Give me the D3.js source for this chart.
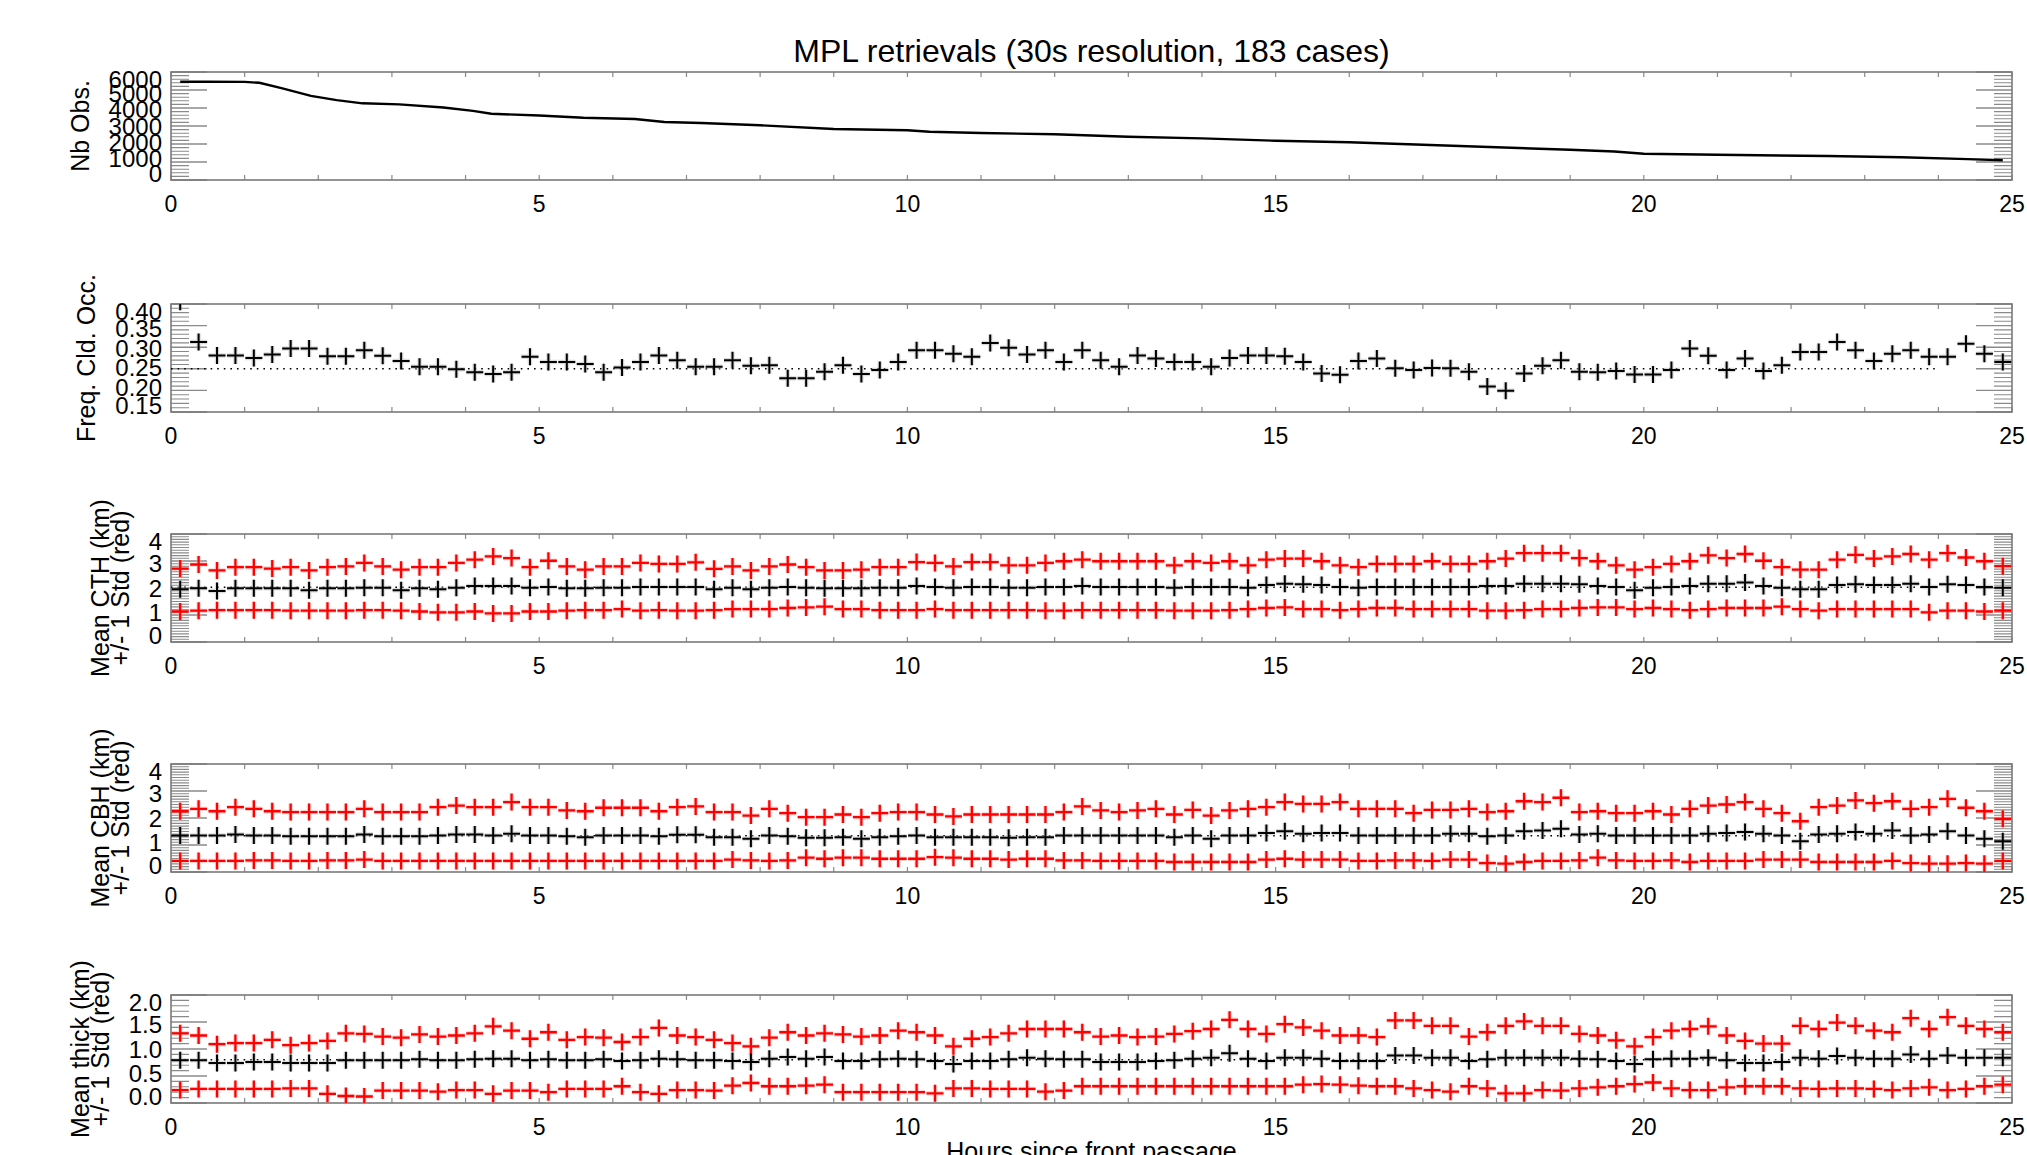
<!DOCTYPE html>
<html>
<head>
<meta charset="utf-8">
<script src="https://cdn.jsdelivr.net/npm/d3@7"></script>
<style>
  body { margin: 0; background: #fff; }
  svg { display: block; font-family: "Liberation Sans", Arial, sans-serif; }
</style>
</head>
<body>
<div id="chart"></div>
<script>
// Bin centres, hours since front passage (15 min bins)
const hours = [
  0.125, 0.375, 0.625, 0.875, 1.125, 1.375, 1.625, 1.875, 2.125, 2.375,
  2.625, 2.875, 3.125, 3.375, 3.625, 3.875, 4.125, 4.375, 4.625, 4.875,
  5.125, 5.375, 5.625, 5.875, 6.125, 6.375, 6.625, 6.875, 7.125, 7.375,
  7.625, 7.875, 8.125, 8.375, 8.625, 8.875, 9.125, 9.375, 9.625, 9.875,
  10.125, 10.375, 10.625, 10.875, 11.125, 11.375, 11.625, 11.875, 12.125, 12.375,
  12.625, 12.875, 13.125, 13.375, 13.625, 13.875, 14.125, 14.375, 14.625, 14.875,
  15.125, 15.375, 15.625, 15.875, 16.125, 16.375, 16.625, 16.875, 17.125, 17.375,
  17.625, 17.875, 18.125, 18.375, 18.625, 18.875, 19.125, 19.375, 19.625, 19.875,
  20.125, 20.375, 20.625, 20.875, 21.125, 21.375, 21.625, 21.875, 22.125, 22.375,
  22.625, 22.875, 23.125, 23.375, 23.625, 23.875, 24.125, 24.375, 24.625, 24.875
];

// Number of observations (line), read at points along the curve
const obsHours = [0.125, 0.5, 1.0, 1.2, 1.5, 1.9, 2.25, 2.6, 3.1, 3.7, 4.1, 4.35, 5.0, 5.6, 6.3, 6.7, 7.2, 8.0, 9.0,
  10.0, 10.3, 11.0, 12.0, 13.0, 14.0, 15.0, 16.0, 17.0, 18.0, 19.0, 19.6, 20.0, 21.0, 22.5, 23.5, 24.4, 24.875];
const obsCounts = [5460, 5460, 5450, 5400, 5100, 4670, 4440, 4260, 4200, 4030, 3840, 3680, 3580, 3460, 3390, 3220, 3170, 3040, 2830,
  2760, 2680, 2610, 2540, 2400, 2310, 2180, 2100, 1960, 1820, 1680, 1580, 1460, 1400, 1330, 1260, 1160, 1100];

// Frequency of cloud occurrence
const freqOcc = [
  0.405, 0.312, 0.281, 0.281, 0.275, 0.283, 0.297, 0.297, 0.279, 0.279,
  0.293, 0.280, 0.268, 0.255, 0.255, 0.249, 0.242, 0.238, 0.242, 0.278,
  0.266, 0.266, 0.261, 0.242, 0.253, 0.266, 0.281, 0.270, 0.255, 0.255,
  0.270, 0.257, 0.258, 0.228, 0.228, 0.243, 0.258, 0.238, 0.247, 0.266,
  0.293, 0.293, 0.285, 0.278, 0.310, 0.299, 0.283, 0.293, 0.266, 0.293,
  0.270, 0.255, 0.281, 0.274, 0.266, 0.266, 0.255, 0.275, 0.281, 0.281,
  0.279, 0.266, 0.239, 0.236, 0.268, 0.274, 0.251, 0.247, 0.252, 0.251,
  0.243, 0.209, 0.199, 0.239, 0.257, 0.270, 0.243, 0.242, 0.245, 0.237,
  0.237, 0.247, 0.297, 0.280, 0.247, 0.274, 0.245, 0.258, 0.289, 0.289,
  0.312, 0.293, 0.268, 0.285, 0.293, 0.278, 0.278, 0.308, 0.285, 0.266
];

// Cloud top height (km): mean, mean + 1 std, mean - 1 std
const cthMean = [
  1.95, 1.99, 1.89, 1.99, 1.99, 1.99, 1.99, 1.92, 1.99, 1.99,
  2.01, 2.01, 1.92, 1.99, 1.95, 2.01, 2.07, 2.07, 2.07, 2.01,
  2.04, 1.99, 1.99, 2.01, 2.01, 2.04, 2.04, 2.04, 2.04, 1.95,
  2.01, 1.95, 2.01, 2.04, 2.01, 1.99, 1.99, 1.99, 2.01, 2.01,
  2.07, 2.04, 2.01, 2.04, 2.04, 2.01, 2.01, 2.04, 2.04, 2.07,
  2.04, 2.04, 2.04, 2.04, 2.01, 2.04, 2.04, 2.04, 2.01, 2.11,
  2.16, 2.14, 2.11, 2.04, 2.01, 2.04, 2.04, 2.04, 2.04, 2.04,
  2.04, 2.07, 2.07, 2.16, 2.16, 2.16, 2.14, 2.07, 2.04, 1.92,
  2.01, 2.04, 2.07, 2.16, 2.16, 2.20, 2.07, 2.01, 1.95, 1.95,
  2.11, 2.14, 2.11, 2.11, 2.16, 2.04, 2.14, 2.11, 2.04, 2.01
];
const cthPlus = [
  2.72, 2.87, 2.65, 2.77, 2.77, 2.72, 2.77, 2.65, 2.77, 2.80,
  2.93, 2.80, 2.68, 2.77, 2.77, 2.93, 3.05, 3.17, 3.11, 2.77,
  3.01, 2.80, 2.68, 2.80, 2.80, 2.93, 2.89, 2.89, 2.95, 2.71,
  2.80, 2.65, 2.80, 2.87, 2.77, 2.65, 2.65, 2.68, 2.77, 2.77,
  2.96, 2.93, 2.80, 2.96, 2.96, 2.84, 2.84, 2.93, 2.99, 3.05,
  2.99, 2.99, 2.99, 2.99, 2.84, 2.99, 2.93, 2.99, 2.84, 3.05,
  3.09, 3.09, 2.99, 2.84, 2.77, 2.89, 2.89, 2.89, 2.99, 2.89,
  2.89, 2.99, 3.09, 3.29, 3.29, 3.29, 3.11, 2.99, 2.84, 2.68,
  2.77, 2.89, 2.99, 3.21, 3.11, 3.26, 3.01, 2.77, 2.68, 2.68,
  3.05, 3.23, 3.09, 3.17, 3.26, 3.05, 3.29, 3.13, 2.99, 2.81
];
const cthMinus = [
  1.13, 1.16, 1.18, 1.18, 1.18, 1.18, 1.16, 1.16, 1.16, 1.16,
  1.18, 1.18, 1.16, 1.13, 1.10, 1.10, 1.13, 1.06, 1.06, 1.13,
  1.13, 1.16, 1.18, 1.18, 1.22, 1.16, 1.18, 1.16, 1.16, 1.18,
  1.22, 1.22, 1.22, 1.26, 1.28, 1.31, 1.22, 1.22, 1.18, 1.18,
  1.18, 1.22, 1.18, 1.18, 1.18, 1.18, 1.18, 1.16, 1.16, 1.18,
  1.18, 1.18, 1.18, 1.18, 1.16, 1.16, 1.16, 1.18, 1.22, 1.26,
  1.28, 1.22, 1.22, 1.18, 1.22, 1.26, 1.26, 1.22, 1.22, 1.22,
  1.22, 1.16, 1.16, 1.18, 1.22, 1.22, 1.26, 1.28, 1.28, 1.22,
  1.26, 1.22, 1.18, 1.22, 1.26, 1.26, 1.26, 1.31, 1.22, 1.16,
  1.22, 1.22, 1.22, 1.22, 1.22, 1.10, 1.16, 1.16, 1.13, 1.16
];

// Cloud base height (km)
const cbhMean = [
  1.35, 1.35, 1.35, 1.39, 1.35, 1.35, 1.32, 1.32, 1.32, 1.32,
  1.39, 1.32, 1.32, 1.32, 1.35, 1.39, 1.39, 1.35, 1.42, 1.35,
  1.35, 1.32, 1.29, 1.35, 1.35, 1.35, 1.32, 1.38, 1.38, 1.29,
  1.29, 1.23, 1.35, 1.32, 1.27, 1.27, 1.29, 1.23, 1.29, 1.32,
  1.35, 1.29, 1.29, 1.29, 1.29, 1.27, 1.29, 1.29, 1.35, 1.35,
  1.35, 1.35, 1.35, 1.35, 1.29, 1.35, 1.23, 1.35, 1.35, 1.44,
  1.51, 1.42, 1.44, 1.44, 1.35, 1.35, 1.35, 1.35, 1.35, 1.42,
  1.42, 1.32, 1.35, 1.51, 1.54, 1.60, 1.39, 1.42, 1.35, 1.35,
  1.35, 1.35, 1.35, 1.42, 1.44, 1.48, 1.42, 1.35, 1.14, 1.39,
  1.42, 1.48, 1.42, 1.54, 1.35, 1.39, 1.51, 1.35, 1.23, 1.14
];
const cbhPlus = [
  2.25, 2.34, 2.25, 2.40, 2.34, 2.25, 2.22, 2.22, 2.22, 2.22,
  2.34, 2.22, 2.22, 2.22, 2.40, 2.46, 2.40, 2.40, 2.59, 2.40,
  2.40, 2.28, 2.25, 2.38, 2.38, 2.38, 2.25, 2.40, 2.43, 2.22,
  2.22, 2.09, 2.34, 2.18, 2.03, 2.03, 2.13, 2.03, 2.18, 2.22,
  2.22, 2.13, 2.06, 2.13, 2.13, 2.13, 2.13, 2.13, 2.22, 2.43,
  2.28, 2.22, 2.28, 2.34, 2.13, 2.30, 2.09, 2.28, 2.34, 2.40,
  2.59, 2.52, 2.52, 2.59, 2.34, 2.34, 2.34, 2.18, 2.30, 2.30,
  2.34, 2.22, 2.25, 2.62, 2.59, 2.75, 2.22, 2.25, 2.18, 2.18,
  2.25, 2.13, 2.34, 2.46, 2.50, 2.59, 2.34, 2.18, 1.88, 2.40,
  2.46, 2.65, 2.55, 2.62, 2.34, 2.40, 2.71, 2.38, 2.25, 1.97
];
const cbhMinus = [
  0.41, 0.41, 0.41, 0.41, 0.43, 0.43, 0.41, 0.41, 0.43, 0.43,
  0.46, 0.41, 0.41, 0.41, 0.41, 0.41, 0.41, 0.41, 0.41, 0.41,
  0.41, 0.41, 0.41, 0.41, 0.41, 0.41, 0.41, 0.41, 0.41, 0.41,
  0.46, 0.43, 0.41, 0.43, 0.53, 0.49, 0.53, 0.53, 0.49, 0.49,
  0.49, 0.55, 0.53, 0.49, 0.49, 0.46, 0.49, 0.49, 0.43, 0.43,
  0.41, 0.41, 0.41, 0.41, 0.37, 0.37, 0.37, 0.37, 0.37, 0.46,
  0.49, 0.46, 0.46, 0.46, 0.41, 0.41, 0.43, 0.43, 0.41, 0.46,
  0.46, 0.33, 0.31, 0.37, 0.41, 0.41, 0.43, 0.53, 0.43, 0.41,
  0.41, 0.43, 0.37, 0.41, 0.41, 0.41, 0.46, 0.46, 0.46, 0.37,
  0.37, 0.37, 0.37, 0.41, 0.33, 0.31, 0.31, 0.33, 0.31, 0.41
];

// Cloud thickness (km)
const thickMean = [
  0.79, 0.79, 0.74, 0.74, 0.76, 0.76, 0.74, 0.74, 0.74, 0.79,
  0.79, 0.79, 0.79, 0.81, 0.79, 0.79, 0.81, 0.82, 0.82, 0.79,
  0.81, 0.79, 0.79, 0.81, 0.78, 0.79, 0.82, 0.81, 0.79, 0.79,
  0.78, 0.76, 0.82, 0.85, 0.82, 0.85, 0.78, 0.78, 0.81, 0.82,
  0.81, 0.78, 0.72, 0.78, 0.78, 0.81, 0.84, 0.82, 0.81, 0.81,
  0.76, 0.76, 0.76, 0.78, 0.79, 0.82, 0.84, 0.92, 0.82, 0.78,
  0.84, 0.84, 0.82, 0.78, 0.78, 0.78, 0.88, 0.88, 0.84, 0.84,
  0.78, 0.81, 0.84, 0.84, 0.84, 0.84, 0.82, 0.81, 0.78, 0.72,
  0.81, 0.82, 0.82, 0.84, 0.79, 0.74, 0.74, 0.76, 0.84, 0.82,
  0.87, 0.84, 0.82, 0.82, 0.90, 0.82, 0.88, 0.84, 0.84, 0.84
];
const thickPlus = [
  1.29, 1.25, 1.09, 1.11, 1.11, 1.17, 1.07, 1.11, 1.15, 1.29,
  1.28, 1.23, 1.21, 1.27, 1.23, 1.25, 1.29, 1.42, 1.34, 1.19,
  1.31, 1.17, 1.22, 1.21, 1.13, 1.22, 1.39, 1.25, 1.22, 1.17,
  1.11, 1.05, 1.21, 1.31, 1.25, 1.29, 1.27, 1.23, 1.25, 1.34,
  1.31, 1.25, 1.05, 1.19, 1.22, 1.29, 1.37, 1.37, 1.37, 1.31,
  1.23, 1.25, 1.22, 1.23, 1.28, 1.33, 1.37, 1.54, 1.37, 1.28,
  1.46, 1.40, 1.34, 1.25, 1.25, 1.22, 1.53, 1.53, 1.43, 1.43,
  1.23, 1.31, 1.43, 1.51, 1.43, 1.43, 1.28, 1.25, 1.16, 1.05,
  1.22, 1.34, 1.37, 1.42, 1.25, 1.15, 1.10, 1.10, 1.43, 1.37,
  1.49, 1.43, 1.34, 1.31, 1.57, 1.37, 1.59, 1.43, 1.37, 1.31
];
const thickMinus = [
  0.24, 0.26, 0.26, 0.26, 0.26, 0.26, 0.27, 0.27, 0.17, 0.13,
  0.12, 0.23, 0.23, 0.23, 0.21, 0.24, 0.24, 0.17, 0.23, 0.23,
  0.20, 0.26, 0.26, 0.26, 0.31, 0.20, 0.17, 0.24, 0.24, 0.23,
  0.32, 0.37, 0.31, 0.31, 0.32, 0.34, 0.20, 0.20, 0.20, 0.20,
  0.20, 0.18, 0.27, 0.27, 0.26, 0.26, 0.26, 0.21, 0.23, 0.31,
  0.31, 0.31, 0.31, 0.31, 0.31, 0.31, 0.31, 0.31, 0.31, 0.31,
  0.31, 0.34, 0.35, 0.34, 0.32, 0.31, 0.31, 0.27, 0.24, 0.21,
  0.31, 0.27, 0.18, 0.18, 0.24, 0.23, 0.27, 0.29, 0.31, 0.35,
  0.38, 0.27, 0.24, 0.24, 0.29, 0.31, 0.31, 0.31, 0.27, 0.26,
  0.27, 0.27, 0.26, 0.24, 0.27, 0.29, 0.24, 0.26, 0.31, 0.34
];

// Overall mean levels (dotted lines)
const freqMeanLevel = 0.25;
const cthMeanLevel = 2.03;
const cbhMeanLevel = 1.34;
const thickMeanLevel = 0.80;

// Tick values
const xTicks = [0, 5, 10, 15, 20, 25];
const nbObsTicks = [0, 1000, 2000, 3000, 4000, 5000, 6000];
const freqTicks = [0.15, 0.20, 0.25, 0.30, 0.35, 0.40];
const heightTicks = [0, 1, 2, 3, 4];
const thickTicks = [0.0, 0.5, 1.0, 1.5, 2.0];

const width = 2027, height = 1155;
const left = 171, right = 2012, panelH = 108;
const panelTops = [72, 304, 534, 764, 995];

const svg = d3.select("#chart").append("svg")
    .attr("width", width)
    .attr("height", height);

const x = d3.scaleLinear().domain([0, 25]).range([left, right]);

const panels = [
  {titles: ["Nb Obs."], domain: [0, 6000], ticks: nbObsTicks, fmt: d3.format("d"), minor: 5,
   line: {xs: obsHours, ys: obsCounts}},
  {titles: ["Freq. Cld. Occ."], domain: [0.15, 0.40], ticks: freqTicks, fmt: d3.format(".2f"), minor: 5,
   level: freqMeanLevel, series: [{values: freqOcc, color: "#000"}]},
  {titles: ["Mean CTH (km)", "+/- 1 Std (red)"], domain: [0, 4], ticks: heightTicks, fmt: d3.format("d"), minor: 10,
   level: cthMeanLevel,
   series: [{values: cthPlus, color: "red"}, {values: cthMean, color: "#000"}, {values: cthMinus, color: "red"}]},
  {titles: ["Mean CBH (km)", "+/- 1 Std (red)"], domain: [0, 4], ticks: heightTicks, fmt: d3.format("d"), minor: 10,
   level: cbhMeanLevel,
   series: [{values: cbhPlus, color: "red"}, {values: cbhMean, color: "#000"}, {values: cbhMinus, color: "red"}]},
  {titles: ["Mean thick (km)", "+/- 1 Std (red)"], domain: [0, 2], ticks: thickTicks, fmt: d3.format(".1f"), minor: 5,
   level: thickMeanLevel,
   series: [{values: thickPlus, color: "red"}, {values: thickMean, color: "#000"}, {values: thickMinus, color: "red"}]}
];

// Main title
svg.append("text")
    .attr("x", (left + right) / 2)
    .attr("y", 62)
    .attr("text-anchor", "middle")
    .style("font-size", "32px")
    .text("MPL retrievals (30s resolution, 183 cases)");

const crossHalf = 8.5;
const crossPath = (cx, cy) => `M${cx - crossHalf},${cy}H${cx + crossHalf}M${cx},${cy - crossHalf}V${cy + crossHalf}`;

panels.forEach((p, k) => {
    const top = panelTops[k], bottom = top + panelH;
    const y = d3.scaleLinear().domain(p.domain).range([bottom, top]);
    const g = svg.append("g");

    g.append("clipPath").attr("id", "clip" + k)
      .append("rect").attr("x", left).attr("y", top).attr("width", right - left).attr("height", panelH);

    // y minor ticks (both sides)
    const minorVals = [];
    for (let i = 0; i < p.ticks.length - 1; i++) {
        const step = (p.ticks[i + 1] - p.ticks[i]) / p.minor;
        for (let j = 1; j < p.minor; j++) minorVals.push(p.ticks[i] + j * step);
    }
    g.selectAll(".yminor").data(minorVals).enter().append("path")
        .attr("d", d => `M${left},${y(d)}h18M${right},${y(d)}h-18`)
        .attr("stroke", "#8a8a8a").attr("stroke-width", 1.1);
    g.selectAll(".ymajor").data(p.ticks).enter().append("path")
        .attr("d", d => `M${left},${y(d)}h36M${right},${y(d)}h-36`)
        .attr("stroke", "#8a8a8a").attr("stroke-width", 1.4);

    // x ticks every hour, top and bottom
    const hourTicks = x.ticks(25);
    g.selectAll(".xtick").data(hourTicks).enter().append("path")
        .attr("d", d => `M${x(d)},${bottom}v-5M${x(d)},${top}v5`)
        .attr("stroke", "#8a8a8a").attr("stroke-width", 1.2);

    // frame
    g.append("rect")
        .attr("x", left).attr("y", top)
        .attr("width", right - left).attr("height", panelH)
        .attr("fill", "none").attr("stroke", "#7a7a7a").attr("stroke-width", 1.6);

    const plot = g.append("g").attr("clip-path", `url(#clip${k})`);

    if (p.line) {
        const pts = p.line.xs.map((h, i) => [h, p.line.ys[i]]);
        plot.append("path")
            .datum(pts)
            .attr("fill", "none")
            .attr("stroke", "#000")
            .attr("stroke-width", 2.4)
            .attr("d", d3.line().x(d => x(d[0])).y(d => y(d[1])));
    }

    if (p.level !== undefined) {
        plot.append("line")
            .attr("x1", x(0)).attr("x2", x(24))
            .attr("y1", y(p.level)).attr("y2", y(p.level))
            .attr("stroke", "#000").attr("stroke-width", 1.6)
            .attr("stroke-dasharray", "1.6,5");
    }

    if (p.series) {
        p.series.forEach(s => {
            const halo = s.color === "red" ? "#f6a0a0" : "#b0b0b0";
            plot.selectAll(null).data(s.values).enter().append("path")
                .attr("d", (d, i) => crossPath(x(hours[i]), y(d)))
                .attr("stroke", halo).attr("stroke-width", 4.5).attr("stroke-opacity", 0.45)
                .attr("fill", "none");
            plot.selectAll(null).data(s.values).enter().append("path")
                .attr("d", (d, i) => crossPath(x(hours[i]), y(d)))
                .attr("stroke", s.color).attr("stroke-width", s.color === "red" ? 2.3 : 2)
                .attr("fill", "none");
        });
    }

    // y tick labels, pulled slightly toward the middle and kept inside the frame
    const mid = (top + bottom) / 2;
    const yLabels = g.selectAll(".ylab").data(p.ticks).enter().append("text")
        .attr("x", 162)
        .attr("y", d => Math.max(top + 7, Math.min(bottom - 7, mid + (y(d) - mid) * 0.9)))
        .attr("dy", "0.36em")
        .attr("text-anchor", "end")
        .style("font-size", "24px")
        .text(d => p.fmt(d));

    let maxW = 0;
    yLabels.each(function() { maxW = Math.max(maxW, this.getComputedTextLength()); });

    // y axis title (one or two lines)
    const baseX = 162 - maxW - 20;
    p.titles.forEach((t, i) => {
        const bx = baseX - (p.titles.length - 1 - i) * 20;
        g.append("text")
            .attr("transform", `translate(${bx},${mid}) rotate(-90)`)
            .attr("text-anchor", "middle")
            .style("font-size", "25px")
            .text(t);
    });

    // x tick labels
    g.selectAll(".xlab").data(xTicks).enter().append("text")
        .attr("x", d => x(d))
        .attr("y", bottom + 32)
        .attr("text-anchor", "middle")
        .style("font-size", "23px")
        .text(d => d);
});

// x axis title (cut by the bottom edge as in the original)
svg.append("text")
    .attr("x", (left + right) / 2)
    .attr("y", 1160)
    .attr("text-anchor", "middle")
    .style("font-size", "25px")
    .text("Hours since front passage");
</script>
</body>
</html>
